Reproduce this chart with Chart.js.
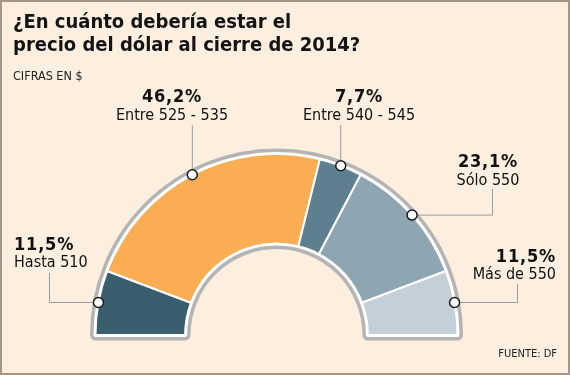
<!DOCTYPE html>
<html>
<head>
<meta charset="utf-8">
<script src="https://cdn.jsdelivr.net/npm/chart.js@4/dist/chart.umd.min.js"></script>
<style>
  html, body { margin: 0; padding: 0; }
  body { width: 570px; height: 375px; overflow: hidden; }
  #frame {
    position: relative; width: 566px; height: 371px;
    background: #fcefdf; border: 2px solid #a6968a;
    font-family: 'DejaVu Sans Condensed', 'DejaVu Sans', sans-serif;
    font-stretch: condensed;
  }
  #chart { position: absolute; left: -2px; top: -2px; }
  .title {
    position: absolute; left: 11px; top: 8px; margin: 0;
    font-size: 20px; line-height: 23px; font-weight: bold; color: #141414;
  }
  .sub { position: absolute; left: 11px; top: 66px; font-size: 12.5px; color: #222; }
  .src { position: absolute; right: 11px; top: 345px; font-size: 11px; color: #222; }
</style>
</head>
<body>
<div id="frame">
  <canvas id="chart" width="570" height="375"></canvas>
  <h1 class="title">¿En cuánto debería estar el<br>precio del dólar al cierre de 2014?</h1>
  <div class="sub">CIFRAS EN $</div>
  <div class="src">FUENTE: DF</div>
</div>
<script>
// data
const labels = ['Hasta 510', 'Entre 525 - 535', 'Entre 540 - 545', 'Sólo 550', 'Más de 550'];
const pctLabels = ['11,5%', '46,2%', '7,7%', '23,1%', '11,5%'];
const values = [11.5, 46.2, 7.7, 23.1, 11.5];
const colors = ['#3a5e6e', '#fbad53', '#5e7f8f', '#8ea5b2', '#c3d0d8'];

// where each callout text sits (elbow = x of the bend, top = end of the leader line)
const callouts = [
  { elbow: 49, top: 273, x: 14, align: 'left', y1: 250, y2: 267 },
  { elbow: null, top: 125, x: 172, align: 'center', y1: 102, y2: 120 },
  { elbow: null, top: 125, x: 359, align: 'center', y1: 102, y2: 120 },
  { elbow: 492, top: 189, x: 488, align: 'center', y1: 167, y2: 185 },
  { elbow: 517, top: 284, x: 556, align: 'right', y1: 262, y2: 279 }
];

const fontFam = "'DejaVu Sans Condensed', 'DejaVu Sans', sans-serif";

// grey outline round the half ring
const ringBack = {
  id: 'ringBack',
  beforeDatasetsDraw(chart) {
    const arcs = chart.getDatasetMeta(0).data;
    if (!arcs.length) return;
    const a = arcs[0];
    const ctx = chart.ctx;
    ctx.save();
    ctx.beginPath();
    ctx.arc(a.x, a.y, a.outerRadius, Math.PI, 2 * Math.PI);
    ctx.lineTo(a.x + a.innerRadius, a.y);
    ctx.arc(a.x, a.y, a.innerRadius, 2 * Math.PI, Math.PI, true);
    ctx.closePath();
    ctx.lineJoin = 'round';
    ctx.strokeStyle = '#b4b4b4';
    ctx.lineWidth = 11;
    ctx.stroke();
    ctx.strokeStyle = '#ffffff';
    ctx.lineWidth = 4;
    ctx.stroke();
    ctx.restore();
  }
};

const calloutPlugin = {
  id: 'callouts',
  afterDatasetsDraw(chart) {
    const ctx = chart.ctx;
    const arcs = chart.getDatasetMeta(0).data;
    arcs.forEach(function(arc, i) {
      const c = callouts[i];
      const mid = (arc.startAngle + arc.endAngle) / 2;
      const px = arc.x + Math.cos(mid) * arc.outerRadius;
      const py = arc.y + Math.sin(mid) * arc.outerRadius;
      ctx.save();
      ctx.strokeStyle = '#9b9b9b';
      ctx.lineWidth = 1;
      ctx.beginPath();
      ctx.moveTo(px, py);
      if (c.elbow !== null) {
        ctx.lineTo(Math.round(c.elbow) + 0.5, py);
        ctx.lineTo(Math.round(c.elbow) + 0.5, c.top);
      } else {
        ctx.lineTo(px, c.top);
      }
      ctx.stroke();

      ctx.beginPath();
      ctx.arc(px, py, 5, 0, 2 * Math.PI);
      ctx.fillStyle = '#ffffff';
      ctx.fill();
      ctx.lineWidth = 1.5;
      ctx.strokeStyle = '#1a1a1a';
      ctx.stroke();

      ctx.textAlign = c.align;
      ctx.textBaseline = 'alphabetic';
      ctx.fillStyle = '#111111';
      ctx.font = 'bold 18px ' + fontFam;
      ctx.letterSpacing = '0.8px';
      ctx.fillText(pctLabels[i], c.x, c.y1);
      ctx.font = '16px ' + fontFam;
      ctx.letterSpacing = '0px';
      ctx.fillText(labels[i], c.x, c.y2);
      ctx.restore();
    });
  }
};

const ctx = document.getElementById('chart');
new Chart(ctx, {
  type: 'doughnut',
  data: {
    labels: labels,
    datasets: [{
      data: values,
      backgroundColor: colors,
      borderColor: '#ffffff',
      borderWidth: 2
    }]
  },
  options: {
    responsive: false,
    animation: false,
    rotation: -90,
    circumference: 180,
    radius: 181,
    cutout: '50.5%',
    layout: { padding: { left: 95, right: 112, top: 154, bottom: 40 } },
    plugins: {
      legend: { display: false },
      tooltip: { enabled: false }
    }
  },
  plugins: [ringBack, calloutPlugin]
});
</script>
</body>
</html>
